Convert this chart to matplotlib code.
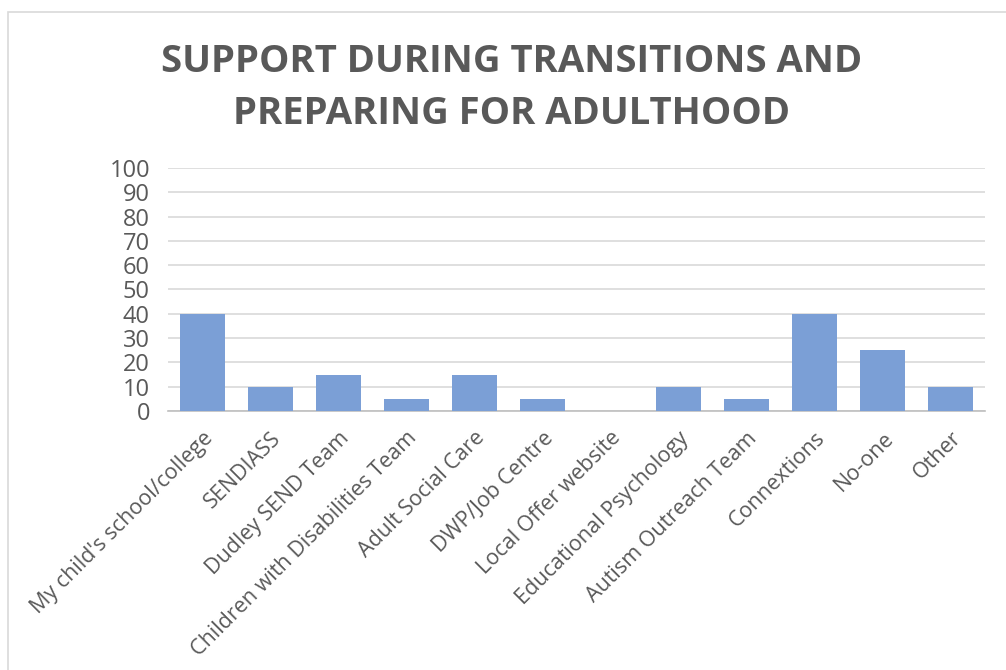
import matplotlib
matplotlib.use("Agg")
import matplotlib.pyplot as plt
from matplotlib.patches import Rectangle

categories = [
    "My child's school/college", "SENDIASS", "Dudley SEND Team",
    "Children with Disabilities Team", "Adult Social Care", "DWP/Job Centre",
    "Local Offer website", "Educational Psychology", "Autism Outreach Team",
    "Connextions", "No-one", "Other",
]
values = [40, 10, 15, 5, 15, 5, 0, 10, 5, 40, 25, 10]
y_ticks = [0, 10, 20, 30, 40, 50, 60, 70, 80, 90, 100]
title = "SUPPORT DURING TRANSITIONS AND\nPREPARING FOR ADULTHOOD"

plt.rcParams["font.family"] = ["Open Sans", "DejaVu Sans"]

W, H = 1006, 670
fig = plt.figure(figsize=(W / 100, H / 100), dpi=100)

# chart frame
fig.patches.append(Rectangle((8 / W, -0.01), 1.1, (H - 12) / H + 0.01,
                             transform=fig.transFigure, fill=False,
                             edgecolor="#D9D9D9", linewidth=1.2))

ax = fig.add_axes([168 / W, 1 - 411 / H, (985 - 168) / W, (411 - 168) / H])
x = list(range(len(categories)))
ax.bar(x, values, width=0.66, color="#7B9FD6", zorder=3)
ax.set_xlim(-0.5, len(categories) - 0.5)
ax.set_ylim(0, 100)
ax.set_yticks(y_ticks)
ax.set_yticklabels([str(v) for v in y_ticks], fontsize=17, color="#595959")
ax.set_xticks(x)
ax.set_xticklabels(categories, rotation=45, ha="right", rotation_mode="anchor",
                   fontsize=15.5, color="#595959")
ax.tick_params(axis="both", length=0)
ax.tick_params(axis="y", pad=13)
ax.tick_params(axis="x", pad=12)
ax.grid(axis="y", color="#D9D9D9", linewidth=1.2, zorder=0)
for side in ["top", "right", "left"]:
    ax.spines[side].set_visible(False)
ax.spines["bottom"].set_color("#BFBFBF")
ax.spines["bottom"].set_linewidth(1.2)

fig.text(512 / W, 1 - 88 / H, title, ha="center", va="center",
         fontsize=27.5, fontweight="bold", color="#595959", linespacing=1.5)

fig.savefig("out.png", dpi=100)
